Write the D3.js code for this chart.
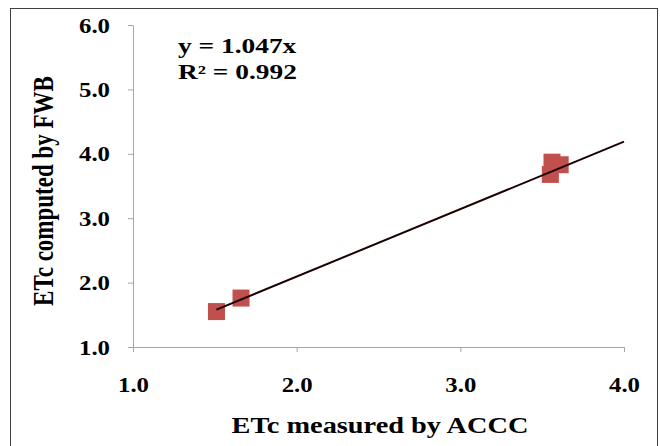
<!DOCTYPE html>
<html lang = "en">
    <head>
        <meta charset="utf-8">
        <title>
            ETc ACCC vs FWB
        </title>
        <style>
            body { margin: 0; background: #fff; }
            text { font-family: "Liberation Serif", "Times New Roman", serif; font-weight: bold; fill: #000; }
            .axis path, .axis line { stroke: #a6a6a6; }
        </style>
        <script type = "text/javascript" src = "https://cdn.jsdelivr.net/npm/d3@7/dist/d3.min.js"></script>
    </head>

    <body>
        <script>
            /* data */
            var measured = [1.51, 1.66, 3.56, 3.55, 3.61];
            var computed = [1.55, 1.76, 3.87, 3.68, 3.83];
            var xTicks = [1.0, 2.0, 3.0, 4.0];
            var yTicks = [1.0, 2.0, 3.0, 4.0, 5.0, 6.0];
            var slope = 1.047;
            var equation = ["y = 1.047x", "R\u00b2 = 0.992"];

            /* the source picture is stretched sideways, text gets the same */
            var tickStretch = 1.24;
            var eqStretch = 1.37;
            var titleStretch = 1.26;

            /* set margin */
            var margin = {top: 25, right: 36, bottom: 99, left: 133};
            var width = 660 - margin.left - margin.right;
            var height = 446 - margin.top - margin.bottom;

            var x = d3.scaleLinear().domain([1, 4]).range([0, width]);
            var y = d3.scaleLinear().domain([1, 6]).range([height, 0]);

            var root = d3.select("body").append("svg")
            .attr("width", 660)
            .attr("height", 446);

            /* outer frame, bottom is cut off */
            root.append("rect")
            .attr("x", 10.5)
            .attr("y", 8.5)
            .attr("width", 647)
            .attr("height", 460)
            .attr("fill", "none")
            .attr("stroke", "#404040");

            var svg = root.append("g")
            .attr("transform", "translate(" + margin.left + "," + margin.top + ")");

            /* axes */
            var xAxis = svg.append("g")
            .attr("class", "axis")
            .attr("transform", "translate(0," + height + ")")
            .call(d3.axisBottom(x).tickValues(xTicks).tickFormat(d3.format(".1f")).tickSize(5).tickSizeOuter(0));
            xAxis.selectAll("text")
            .style("font-size", "20px")
            .attr("dy", null)
            .attr("y", 45)
            .attr("transform", "scale(" + tickStretch + ",1)");

            var yAxis = svg.append("g")
            .attr("class", "axis")
            .call(d3.axisLeft(y).tickValues(yTicks).tickFormat(d3.format(".1f")).tickSize(5).tickSizeOuter(0));
            yAxis.selectAll("text")
            .style("font-size", "20px")
            .attr("x", -23 / tickStretch)
            .attr("dy", "0.35em")
            .attr("transform", "scale(" + tickStretch + ",1)");

            /* points */
            var pts = measured.map(function(d, i) { return {x: d, y: computed[i]}; });
            svg.selectAll(".pt")
            .data(pts)
            .enter().append("rect")
            .attr("class", "pt")
            .attr("x", function(d) { return x(d.x) - 8.5; })
            .attr("y", function(d) { return y(d.y) - 8.5; })
            .attr("width", 17)
            .attr("height", 17)
            .attr("fill", "#c0504d");

            /* trendline y = 1.047x */
            var x0 = d3.min(measured);
            svg.append("line")
            .attr("x1", x(x0))
            .attr("y1", y(slope * x0))
            .attr("x2", x(4))
            .attr("y2", y(slope * 4))
            .attr("stroke", "#1a0000")
            .attr("stroke-width", 2);

            /* equation */
            root.selectAll(".eq")
            .data(equation)
            .enter().append("text")
            .attr("class", "eq")
            .attr("transform", function(d, i) {
                return "translate(178," + (53 + i * 26) + ") scale(" + eqStretch + ",1)";
                })
            .style("font-size", "20px")
            .text(function(d) { return d; });

            /* axis titles */
            root.append("text")
            .attr("transform", "translate(380,433) scale(" + titleStretch + ",1)")
            .attr("text-anchor", "middle")
            .style("font-size", "22.5px")
            .text("ETc measured by ACCC");

            root.append("text")
            .attr("transform", "translate(53,191) scale(" + titleStretch + ",1) rotate(-90)")
            .attr("text-anchor", "middle")
            .style("font-size", "23px")
            .text("ETc computed by FWB");
        </script>
    </body>
</html>
